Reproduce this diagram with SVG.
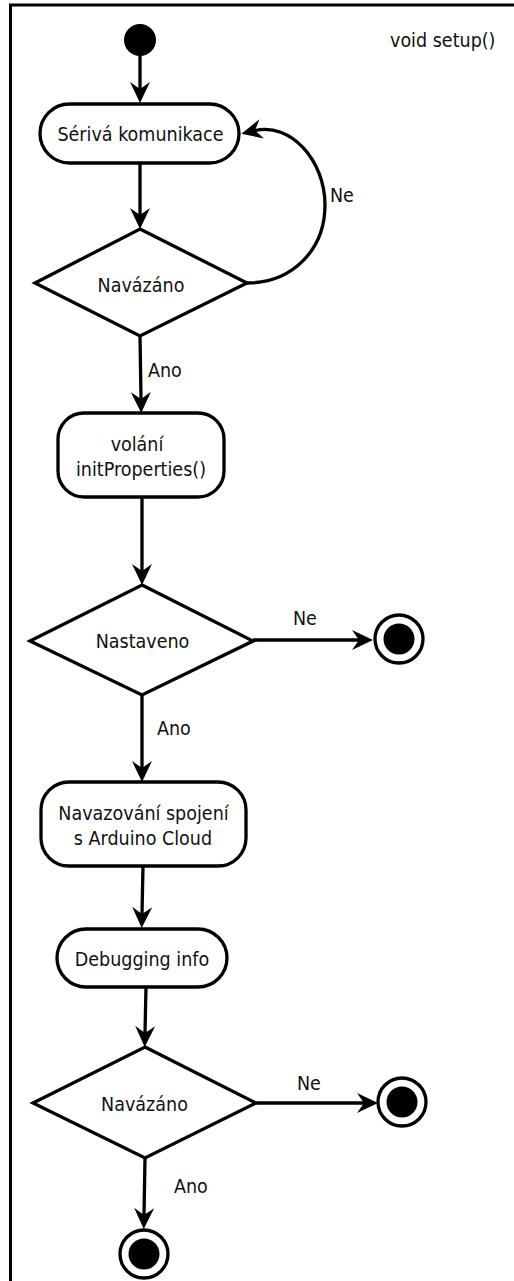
<svg xmlns="http://www.w3.org/2000/svg" width="514" height="1281" viewBox="0 0 514 1281">
  <style>
    .shape { fill: #ffffff; stroke: #000000; stroke-width: 3.3; }
    .edge { fill: none; stroke: #000000; stroke-width: 3.3; }
    .label { font-family: "DejaVu Sans Condensed", "DejaVu Sans", sans-serif; font-size: 19.5px; fill: #111111; text-anchor: middle; }
    .edge-label { font-family: "DejaVu Sans Condensed", "DejaVu Sans", sans-serif; font-size: 19.5px; fill: #111111; }
    .dot { fill: #000000; }
    .ring { fill: #ffffff; stroke: #000000; stroke-width: 3.3; }
  </style>
  <defs>
    <marker id="arrow" viewBox="0 0 21 21" markerWidth="21" markerHeight="21" markerUnits="userSpaceOnUse" refX="7" refY="10.5" orient="auto">
      <path d="M0,0.5 L21,10.5 L0,20.5 L7,10.5 z" fill="#000000"/>
    </marker>
  </defs>

  <rect width="514" height="1281" fill="#ffffff"/>

  <!-- frame of the activity (continues past the right and bottom edges) -->
  <g id="frame">
    <rect x="10.5" y="5" width="600" height="1400" fill="none" stroke="#000000" stroke-width="3"/>
    <text class="edge-label" x="390" y="47">void setup()</text>
  </g>

  <g id="start">
    <circle class="dot" cx="140" cy="40" r="16"/>
  </g>

  <g id="serial">
    <rect class="shape" x="40" y="104" width="199" height="59" rx="29.5"/>
    <text class="label" x="140.5" y="141">Sérivá komunikace</text>
  </g>

  <g id="check-serial">
    <polygon class="shape" points="140,229 247,283 140,336 35,283"/>
    <text class="label" x="141" y="291.5">Navázáno</text>
  </g>

  <g id="init-properties">
    <rect class="shape" x="58" y="413" width="166" height="84" rx="26"/>
    <text class="label" x="137" y="451">volání</text>
    <text class="label" x="141" y="476">initProperties()</text>
  </g>

  <g id="check-properties">
    <polygon class="shape" points="142,585 253,641 142,695 30,641"/>
    <text class="label" x="142.5" y="648">Nastaveno</text>
  </g>

  <g id="end-properties">
    <circle class="ring" cx="399" cy="639" r="24"/>
    <circle class="dot" cx="399" cy="639" r="15.5"/>
  </g>

  <g id="cloud-connect">
    <rect class="shape" x="41" y="782" width="205" height="84" rx="28"/>
    <text class="label" x="143.5" y="820">Navazování spojení</text>
    <text class="label" x="143" y="845">s Arduino Cloud</text>
  </g>

  <g id="debug-info">
    <rect class="shape" x="57" y="929" width="170" height="58" rx="29"/>
    <text class="label" x="142" y="966">Debugging info</text>
  </g>

  <g id="check-cloud">
    <polygon class="shape" points="145,1047 256,1103 145,1158 33,1103"/>
    <text class="label" x="144.5" y="1111">Navázáno</text>
  </g>

  <g id="end-failed">
    <circle class="ring" cx="402" cy="1102" r="24"/>
    <circle class="dot" cx="402" cy="1102" r="15.5"/>
  </g>

  <g id="end-ok">
    <circle class="ring" cx="144" cy="1254" r="24"/>
    <circle class="dot" cx="144" cy="1254" r="15.5"/>
  </g>

  <g id="connectors">
    <path class="edge" d="M140,56 L140,89" marker-end="url(#arrow)"/>
    <path class="edge" d="M140,163 L140,215" marker-end="url(#arrow)"/>
    <path class="edge" d="M247,283 C292,283 325,250 325,205 C325,160 290,122 255,130.5" marker-end="url(#arrow)"/>
    <text class="edge-label" x="330" y="202">Ne</text>
    <path class="edge" d="M140,336 L141,399" marker-end="url(#arrow)"/>
    <text class="edge-label" x="148" y="377">Ano</text>
    <path class="edge" d="M142,497 L142,571" marker-end="url(#arrow)"/>
    <path class="edge" d="M253,640 L359,640" marker-end="url(#arrow)"/>
    <text class="edge-label" x="293" y="625">Ne</text>
    <path class="edge" d="M142,695 L142,768" marker-end="url(#arrow)"/>
    <text class="edge-label" x="157" y="735">Ano</text>
    <path class="edge" d="M143,866 L142,914" marker-end="url(#arrow)"/>
    <path class="edge" d="M146,987 L145,1033" marker-end="url(#arrow)"/>
    <path class="edge" d="M256,1103 L364,1103" marker-end="url(#arrow)"/>
    <text class="edge-label" x="297" y="1090">Ne</text>
    <path class="edge" d="M145,1158 L144,1215" marker-end="url(#arrow)"/>
    <text class="edge-label" x="174" y="1193">Ano</text>
  </g>
</svg>
